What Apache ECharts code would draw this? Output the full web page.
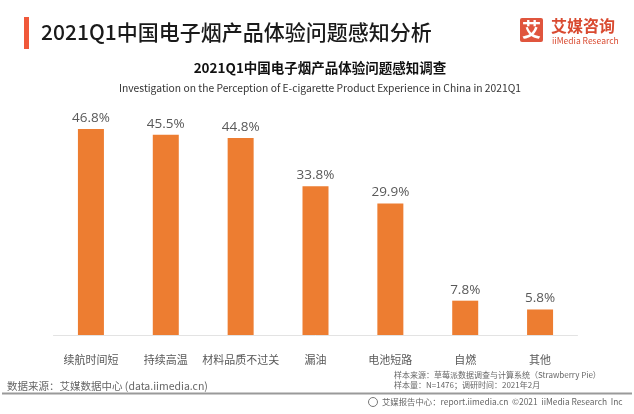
<!DOCTYPE html>
<html><head><meta charset="utf-8">
<script src="https://cdn.jsdelivr.net/npm/echarts@6/dist/echarts.min.js"></script>
<style>html,body{margin:0;padding:0;background:#fff}#c{width:634px;height:414px}</style>
</head><body><div id="c"></div>
<script>
const categories = ['续航时间短','持续高温','材料品质不过关','漏油','电池短路','自燃','其他'];
const values = [46.8, 45.5, 44.8, 33.8, 29.9, 7.8, 5.8];
const mainTitle = '2021Q1中国电子烟产品体验问题感知分析';
const chartTitle = '2021Q1中国电子烟产品体验问题感知调查';
const chartSubtitle = 'Investigation on the Perception of E-cigarette Product Experience in China in 2021Q1';
const sourceText = '数据来源：艾媒数据中心 (data.iimedia.cn)';
const sampleSource = '样本来源：草莓派数据调查与计算系统（Strawberry Pie）';
const sampleSize = '样本量：N=1476；调研时间：2021年2月';
const copyright = '艾媒报告中心：report.iimedia.cn  ©2021  iiMedia Research  Inc';

const F = '"Noto Sans CJK SC","Noto Sans",sans-serif';
const chart = echarts.init(document.getElementById('c'));
chart.setOption({
  animation: false,
  grid: {left: 53.5, right: 56.5, top: 115, bottom: 79},
  xAxis: {
    type: 'category', data: categories,
    axisLine: {lineStyle: {color: '#e3e3e3', width: 1}},
    axisTick: {show: false},
    axisLabel: {color: '#595959', fontSize: 11, fontFamily: F, margin: 19, interval: 0}
  },
  yAxis: {type: 'value', min: 0, max: 50, show: false, splitLine: {show: false}},
  series: [{
    type: 'bar', data: values, barWidth: 26,
    itemStyle: {color: '#ED7D31'},
    label: {show: true, position: 'top', distance: 4, formatter: p => p.value.toFixed(1) + '%',
      color: '#595959', fontSize: 13.5, fontFamily: '"Open Sans","Noto Sans",sans-serif'}
  }],
  graphic: [
    {type: 'rect', shape: {x: 24, y: 17, width: 5, height: 32}, style: {fill: '#F0583A'}},
    {type: 'text', x: 41, y: 32, style: {text: mainTitle, font: '500 21px ' + F, fill: '#1a1a1a', textVerticalAlign: 'middle'}},
    {type: 'rect', shape: {x: 520, y: 18, width: 23, height: 24, r: 2}, style: {fill: '#E0553D'}},
    {type: 'text', x: 531.5, y: 30, style: {text: '艾', font: 'bold 19px ' + F, fill: '#fff', textAlign: 'center', textVerticalAlign: 'middle'}},
    {type: 'text', x: 551, y: 26, style: {text: '艾媒咨询', font: 'bold 16px ' + F, fill: '#D94A30', textVerticalAlign: 'middle'}},
    {type: 'text', x: 552, y: 41, style: {text: 'iiMedia Research', font: '8.5px ' + F, fill: '#D94A30', textVerticalAlign: 'middle'}},
    {type: 'text', x: 320, y: 68, style: {text: chartTitle, font: 'bold 13.5px ' + F, fill: '#111', textAlign: 'center', textVerticalAlign: 'middle'}},
    {type: 'text', x: 320, y: 88, style: {text: chartSubtitle, font: '10.3px ' + F, fill: '#333', textAlign: 'center', textVerticalAlign: 'middle'}},
    {type: 'text', x: 7, y: 386, style: {text: sourceText, font: '10.5px ' + F, fill: '#666', textVerticalAlign: 'middle'}},
    {type: 'rect', shape: {x: 2, y: 392.5, width: 630, height: 2}, style: {fill: '#9a9a9a'}},
    {type: 'text', x: 394, y: 375, style: {text: sampleSource, font: '8px ' + F, fill: '#666', textVerticalAlign: 'middle'}},
    {type: 'text', x: 394, y: 385, style: {text: sampleSize, font: '8px ' + F, fill: '#666', textVerticalAlign: 'middle'}},
    {type: 'circle', shape: {cx: 373, cy: 402, r: 4.5}, style: {fill: 'none', stroke: '#777', lineWidth: 1}},
    {type: 'text', x: 382, y: 402, style: {text: copyright, font: '8.4px ' + F, fill: '#666', textVerticalAlign: 'middle'}}
  ]
});
</script></body></html>
